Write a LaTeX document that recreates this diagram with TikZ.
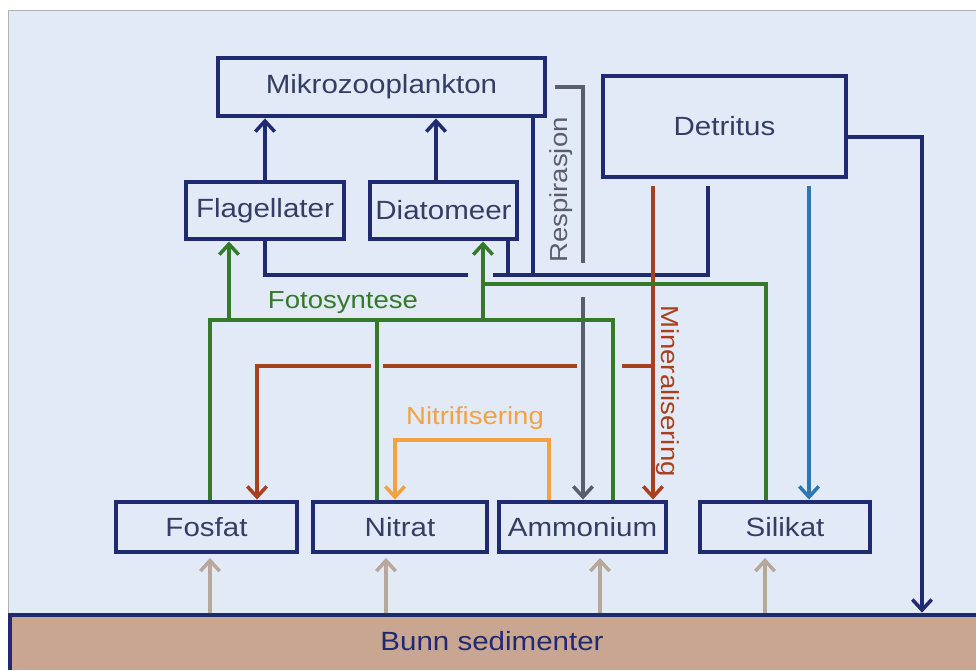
\documentclass[tikz,border=0pt]{standalone}
\usepackage{fontspec}
\setmainfont{Liberation Sans}[FakeStretch=1.12]
\usetikzlibrary{arrows.meta}
\definecolor{bgblue}{RGB}{227,234,247}
\definecolor{navy}{RGB}{32,42,112}
\definecolor{boxtext}{RGB}{52,62,100}
\definecolor{fotogreen}{RGB}{52,122,42}
\definecolor{minred}{RGB}{168,64,30}
\definecolor{respgrey}{RGB}{90,94,108}
\definecolor{siliblue}{RGB}{44,120,176}
\definecolor{nitorange}{RGB}{242,162,64}
\definecolor{sedtan}{RGB}{200,166,146}
\definecolor{uptan}{RGB}{184,168,156}
\begin{document}
\begin{tikzpicture}[x=0.02cm,y=-0.02cm,>={Straight Barb[length=6pt,width=11pt]},
  pool/.style={draw=navy,line width=2.8pt,fill=bgblue,text=boxtext,font=\fontsize{15}{18}\selectfont,inner sep=0},
  flow/.style={line width=2pt},
  flowtext/.style={font=\fontsize{14}{17}\selectfont,inner sep=0}]
\useasboundingbox (0,0) rectangle (976,670);
\fill[bgblue] (8,10) rectangle (976,670);
\draw[gray!60] (976,10) -- (8,10) -- (8,670);
% pools
\node[pool,minimum width=6.54cm,minimum height=1.16cm] (mikro) at (381.5,87) {Mikrozooplankton};
\node[pool,minimum width=4.86cm,minimum height=2.02cm] (detr) at (724.5,126.5) {Detritus};
\node[pool,minimum width=3.16cm,minimum height=1.14cm] (flag) at (265,210.5) {Flagellater};
\node[pool,minimum width=2.94cm,minimum height=1.14cm] (diat) at (443.5,210.5) {Diatomeer};
\node[pool,minimum width=3.62cm,minimum height=1cm] (fosfat) at (206.5,527) {Fosfat};
\node[pool,minimum width=3.48cm,minimum height=1cm] (nitrat) at (400,527) {Nitrat};
\node[pool,minimum width=3.34cm,minimum height=1cm] (ammon) at (582.5,527) {Ammonium};
\node[pool,minimum width=3.4cm,minimum height=1cm] (silik) at (785,527) {Silikat};
\node[fill=sedtan,text=navy,font=\fontsize{15}{18}\selectfont,minimum width=19.36cm,minimum height=1.14cm,inner sep=0] (bunn) at (492,641.5) {Bunn sedimenter};
\draw[navy,line width=2.8pt] (10,670) |- (976,615);
% grazing
\draw[flow,navy,->] (flag.north) -- (flag.north |- mikro.south);
\draw[flow,navy,->] (436,0 |- diat.north) -- (436,0 |- mikro.south);
% dead matter to detritus
\coordinate (dcol) at (708,275);
\draw[flow,navy] (flag.south) |- (468,275);
\draw[flow,navy] (493,275) -- (dcol) -- (dcol |- 0,186);
\draw[flow,navy] (508,0 |- diat.south) -- (508,275);
\draw[flow,navy] (533,0 |- mikro.south) -- (533,275);
% respiration
\draw[flow,respgrey] ([xshift=0.16cm]mikro.east) -- (583,87) -- (583,263);
\draw[flow,respgrey,->] (583,297) -- (583,0 |- ammon.north);
\node[flowtext,text=respgrey,rotate=90] (resp) at (561,190) {Respirasjon};
% mineralisation
\draw[flow,minred,->] (653,186) -- (653,0 |- ammon.north);
\draw[flow,minred] (653,366) -- (622,366);
\draw[flow,minred] (577,366) -- (383,366);
\draw[flow,minred,->] (371,366) -- (257,366) -- (257,0 |- fosfat.north);
\node[flowtext,text=minred,rotate=-90] (mineral) at (668,391) {Mineralisering};
% silicate
\draw[flow,siliblue,->] (809,186) -- (809,0 |- silik.north);
% photosynthesis
\draw[flow,fotogreen] (210,0 |- fosfat.north) |- (613,320) -- (613,0 |- ammon.north);
\draw[flow,fotogreen] (377,320) -- (377,0 |- nitrat.north);
\draw[flow,fotogreen,->] (229,320) -- (229,0 |- flag.south);
\draw[flow,fotogreen,->] (483,320) -- (483,0 |- diat.south);
\draw[flow,fotogreen] (483,284) -| (766,0 |- silik.north);
\node[flowtext,text=fotogreen] (foto) at (343,303) {Fotosyntese};
% nitrification
\draw[flow,nitorange,->] (549,0 |- ammon.north) -- (549,440) -| (395,0 |- nitrat.north);
\node[flowtext,text=nitorange] (nitri) at (475,418) {Nitrifisering};
% burial
\draw[flow,navy,->] (detr.east |- 0,137) -| (922,0 |- bunn.north);
% release from sediment
\foreach \b/\x in {fosfat/210,nitrat/386,ammon/600,silik/765}
  \draw[flow,uptan,->,shorten >=2pt] (\x,0 |- bunn.north) -- (\x,0 |- \b.south);
\end{tikzpicture}
\end{document}
